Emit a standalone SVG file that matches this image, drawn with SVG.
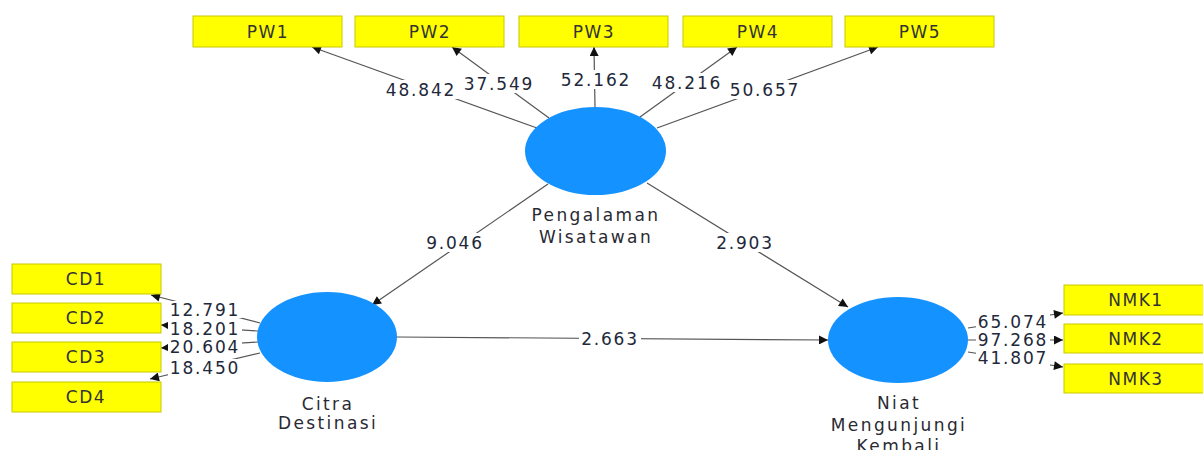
<svg xmlns="http://www.w3.org/2000/svg" width="1203" height="450" viewBox="0 0 1203 450">
<style>
.box{fill:#ffff00;stroke:#c8c800;stroke-width:1}
.bt{font-family:"DejaVu Sans",sans-serif;font-size:17px;letter-spacing:1.5px;fill:#333;text-anchor:middle}
.lv{fill:#1492ff}
.nt{font-family:"DejaVu Sans",sans-serif;font-size:17px;letter-spacing:2.4px;fill:#2a2a33;text-anchor:middle}
.ln{stroke:#555;stroke-width:1.2;fill:none;marker-end:url(#ah)}
.num{font-family:"DejaVu Sans",sans-serif;font-size:17px;letter-spacing:1.8px;fill:#22283a;text-anchor:middle}
.bg{fill:#fff}
</style>
<defs>
<marker id="ah" viewBox="0 0 10 10" refX="10" refY="5" markerWidth="10" markerHeight="9" markerUnits="userSpaceOnUse" orient="auto">
<path d="M0,0 L10,5 L0,10 z" fill="#111"/>
</marker>
</defs>
<rect width="1203" height="450" fill="#fff"/>
<g id="connectors">
<line class="ln" x1="537" y1="128" x2="312" y2="47"/>
<line class="ln" x1="549" y1="118" x2="452" y2="47"/>
<line class="ln" x1="595" y1="107" x2="594" y2="47"/>
<line class="ln" x1="640" y1="117" x2="737" y2="47"/>
<line class="ln" x1="657" y1="128" x2="878" y2="47"/>
<line class="ln" x1="548" y1="184" x2="372" y2="305"/>
<line class="ln" x1="647" y1="183" x2="848" y2="307"/>
<line class="ln" x1="397" y1="337" x2="828" y2="340"/>
<line class="ln" x1="260" y1="323" x2="151" y2="295"/>
<line class="ln" x1="258" y1="331" x2="161" y2="325"/>
<line class="ln" x1="258" y1="342" x2="161" y2="348"/>
<line class="ln" x1="260" y1="353" x2="150" y2="379"/>
<line class="ln" x1="968" y1="328" x2="1063" y2="313"/>
<line class="ln" x1="968" y1="340" x2="1063" y2="340"/>
<line class="ln" x1="968" y1="352" x2="1063" y2="367"/>
<rect class="bg" x="384" y="80" width="74" height="19"/>
<rect class="bg" x="462" y="74" width="74" height="19"/>
<rect class="bg" x="559" y="70" width="74" height="19"/>
<rect class="bg" x="650" y="73" width="74" height="19"/>
<rect class="bg" x="728" y="80" width="74" height="19"/>
<rect class="bg" x="424" y="233" width="62" height="19"/>
<rect class="bg" x="714" y="233" width="62" height="19"/>
<rect class="bg" x="579" y="329" width="62" height="19"/>
<rect class="bg" x="168" y="301" width="74" height="17"/>
<rect class="bg" x="168" y="320" width="74" height="17"/>
<rect class="bg" x="168" y="338" width="74" height="17"/>
<rect class="bg" x="168" y="359" width="74" height="17"/>
<rect class="bg" x="976" y="313" width="74" height="17"/>
<rect class="bg" x="976" y="331" width="74" height="17"/>
<rect class="bg" x="976" y="349" width="74" height="17"/>
<text class="num" x="421" y="96">48.842</text>
<text class="num" x="499" y="90">37.549</text>
<text class="num" x="596" y="86">52.162</text>
<text class="num" x="687" y="89">48.216</text>
<text class="num" x="765" y="96">50.657</text>
<text class="num" x="455" y="249">9.046</text>
<text class="num" x="745" y="249">2.903</text>
<text class="num" x="610" y="345">2.663</text>
<text class="num" x="205" y="316">12.791</text>
<text class="num" x="205" y="335">18.201</text>
<text class="num" x="205" y="353">20.604</text>
<text class="num" x="205" y="374">18.450</text>
<text class="num" x="1013" y="328">65.074</text>
<text class="num" x="1013" y="346">97.268</text>
<text class="num" x="1013" y="364">41.807</text>
</g>
<g id="PW1"><rect class="box" x="193" y="16" width="149" height="31"/><text class="bt" x="268" y="38">PW1</text></g>
<g id="PW2"><rect class="box" x="355" y="16" width="149" height="31"/><text class="bt" x="430" y="38">PW2</text></g>
<g id="PW3"><rect class="box" x="519" y="16" width="149" height="31"/><text class="bt" x="594" y="38">PW3</text></g>
<g id="PW4"><rect class="box" x="683" y="16" width="149" height="31"/><text class="bt" x="758" y="38">PW4</text></g>
<g id="PW5"><rect class="box" x="845" y="16" width="149" height="31"/><text class="bt" x="920" y="38">PW5</text></g>
<g id="CD1"><rect class="box" x="12" y="264" width="149" height="30"/><text class="bt" x="86" y="285">CD1</text></g>
<g id="CD2"><rect class="box" x="12" y="303" width="149" height="30"/><text class="bt" x="86" y="324">CD2</text></g>
<g id="CD3"><rect class="box" x="12" y="342" width="149" height="30"/><text class="bt" x="86" y="363">CD3</text></g>
<g id="CD4"><rect class="box" x="12" y="382" width="149" height="30"/><text class="bt" x="86" y="403">CD4</text></g>
<g id="NMK1"><rect class="box" x="1064" y="285" width="145" height="30"/><text class="bt" x="1136" y="306">NMK1</text></g>
<g id="NMK2"><rect class="box" x="1064" y="324" width="145" height="29"/><text class="bt" x="1136" y="345">NMK2</text></g>
<g id="NMK3"><rect class="box" x="1064" y="364" width="145" height="29"/><text class="bt" x="1136" y="385">NMK3</text></g>
<g id="PengalamanWisatawan"><ellipse class="lv" cx="595.5" cy="151" rx="70.5" ry="44"/><text class="nt" x="596" y="221">Pengalaman</text><text class="nt" x="596" y="243">Wisatawan</text></g>
<g id="CitraDestinasi"><ellipse class="lv" cx="327" cy="337" rx="70" ry="45"/><text class="nt" x="328" y="410">Citra</text><text class="nt" x="328" y="429">Destinasi</text></g>
<g id="NiatMengunjungiKembali"><ellipse class="lv" cx="898" cy="340" rx="70" ry="43"/><text class="nt" x="899" y="409">Niat</text><text class="nt" x="899" y="431">Mengunjungi</text><text class="nt" x="899" y="452">Kembali</text></g>
</svg>
